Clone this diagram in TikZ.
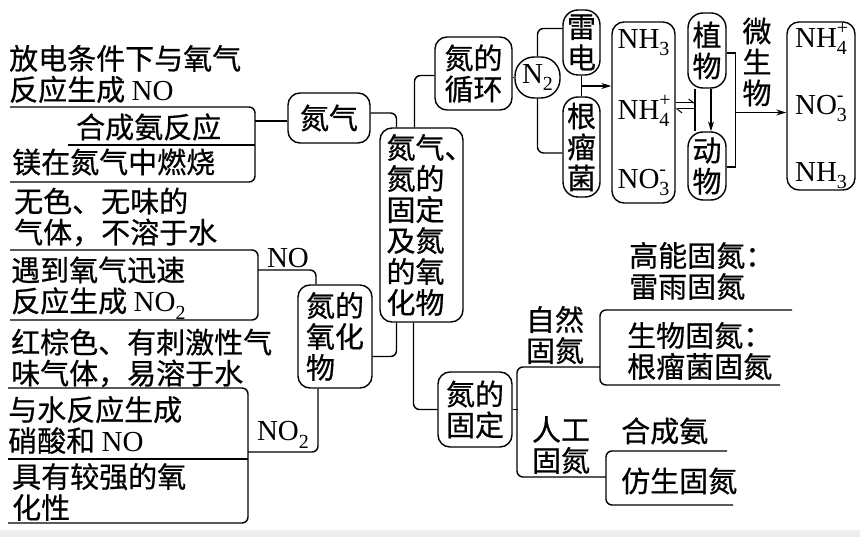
\documentclass[tikz,border=0pt]{standalone}
\usepackage{fontspec}
\setmainfont{Liberation Serif}
\newfontfamily\cjk[FakeBold=0.6]{Noto Sans CJK SC}
\usetikzlibrary{arrows.meta, calc}
\newcommand\chsub[1]{\raisebox{-0.26em}{\fontsize{20}{20}\selectfont #1}}
\newcommand\chion[2]{\rlap{\raisebox{0.45em}{\fontsize{20}{20}\selectfont #2}}\chsub{#1}}
\newcommand\lat[1]{{\rmfamily #1}}

\begin{document}
\begin{tikzpicture}[x=1pt, y=-1pt,
  every node/.style={font=\cjk\fontsize{29}{31}\selectfont, inner sep=0pt},
  txt/.style={align=left, anchor=west},
  box/.style={draw, line width=1.4pt, rounded corners=12pt, align=left},
  pill/.style={box, rounded corners=15pt, align=center},
  ln/.style={line width=1.4pt, rounded corners=6pt},
  >={Stealth[length=10pt, width=6pt]}]
\useasboundingbox (0,0) rectangle (860,537);
\fill[gray!13] (0,530) rectangle (860,537);

\node[box, minimum width=82pt, minimum height=50pt] (gas) at (329,118) {氮气};
\node[box, minimum width=83pt, minimum height=194pt] (main) at (421.5,225) {氮气\makebox[12pt][l]{、}\\氮的\\固定\\及氮\\的氧\\化物};
\node[box, minimum width=74pt, minimum height=103pt] (oxide) at (335,336.5) {氮的\\氧化\\物};
\node[box, minimum width=77pt, minimum height=73pt] (cycle) at (473.5,73.5) {氮的\\循环};
\node[box, minimum width=74pt, minimum height=75pt] (fix) at (475,409.5) {氮的\\固定};
\node[box, rounded corners=19pt, minimum width=45pt, minimum height=41pt] (n2) at (537.5,77.5) {\lat{N\chsub{2}}};
\node[pill, minimum width=37pt, minimum height=65pt] (lei) at (581.5,42.5) {雷\\电};
\node[pill, minimum width=37pt, minimum height=100pt] (root) at (581.5,147) {根\\瘤\\菌};
\node[box, minimum width=63pt, minimum height=181pt] (ionsA) at (643.5,112.5) {\lat{NH\chsub{3}}\\[38pt]\lat{NH\chion{4}{+}}\\[38pt]\lat{NO\chion{3}{-}}};
\node[pill, minimum width=38pt, minimum height=75pt] (plant) at (707,50.5) {植\\物};
\node[pill, minimum width=38pt, minimum height=68pt] (animal) at (707,166) {动\\物};
\node[align=center] (microbe) at (757,62) {微\\生\\物};
\node[box, minimum width=68pt, minimum height=168pt] (ionsB) at (821,106) {\lat{NH\chion{4}{+}}\\[36pt]\lat{NO\chion{3}{-}}\\[36pt]\lat{NH\chsub{3}}};

\node[txt] (spark) at (9,74) {放电条件下与氧气\\反应生成 \lat{NO}};
\node[txt] (synth) at (76,127) {合成氨反应};
\node[txt] (burn) at (12,162) {镁在氮气中燃烧};
\node[txt] (colorless) at (14,217) {无色、无味的\\气体，不溶于水};
\node[txt] (meetO) at (11,288) {遇到氧气迅速\\反应生成 \lat{NO\chsub{2}}};
\node[txt] (brown) at (11,358) {红棕色、有刺激性气\\味气体，易溶于水};
\node[txt] (water) at (8,425) {与水反应生成\\硝酸和 \lat{NO}};
\node[txt] (oxid) at (12,492) {具有较强的氧\\化性};
\node (noLab) at (288,258) {\lat{NO}};
\node (no2Lab) at (283,435) {\lat{NO\chsub{2}}};

\node[align=center] (natural) at (555,335) {自然\\固氮};
\node[align=center] (artif) at (561,445) {人工\\固氮};
\node[txt] (highE) at (629,271) {高能固氮：\\雷雨固氮};
\node[txt] (bio) at (627,351) {生物固氮：\\根瘤菌固氮};
\node[txt] (ammonia) at (621,431) {合成氨};
\node[txt] (bionic) at (621,481) {仿生固氮};

\draw[ln] (10,107) -- (255,107) -- (255,182) -- (10,182);
\draw[ln] (68,145) -- (255,145);
\coordinate (gasJ) at (255,121);
\draw[ln] (gasJ) -- (gasJ -| gas.west);
\draw[ln] (10,250) -- (258,250) -- (258,320) -- (10,320);
\coordinate (noJ) at (258,270);
\draw[ln] (noJ) -| ([xshift=-19pt]oxide.north);
\draw[ln] (8,388) -- (248,388) -- (248,523) -- (8,523);
\draw[ln] (8,459) -- (248,459);
\coordinate (no2J) at (248,452);
\draw[ln] (no2J) -| ([xshift=-17pt]oxide.south);

\draw[ln] ([yshift=5pt]gas.east) -| ([xshift=-25pt]main.north);
\draw[ln] ([xshift=-7pt]main.north) |- ([yshift=-2pt]cycle.west);
\draw[ln] ([xshift=-25pt]main.south) |- ([yshift=-20pt]oxide.east);
\draw[ln] ([xshift=-8pt]main.south) |- (fix.west);

\draw[ln] (cycle.east |- n2.west) -- (n2.west);
\draw[ln] (n2.north) |- ([yshift=14pt]lei.west);
\draw[ln] (n2.south) |- ([yshift=-6pt]root.west);
\draw[ln] (lei.south) -- (root.north);
\coordinate (leiJ) at ($(lei.south)!0.5!(root.north)$);
\draw[ln, ->] (leiJ) -- (leiJ -| ionsA.west);
\coordinate (plantL) at ([xshift=-12pt]plant.south);
\draw[ln] (plantL) -- ([xshift=-12pt]animal.north);
\draw[line width=1pt, -{Straight Barb[left, length=5pt, width=8pt]}] ([yshift=9.5pt]ionsA.east) -- ([yshift=9.5pt]ionsA.east -| plantL);
\draw[line width=1pt, -{Straight Barb[left, length=5pt, width=8pt]}] ([yshift=3.5pt]ionsA.east -| plantL) -- ([yshift=3.5pt]ionsA.east);
\draw[ln, ->] ([xshift=4pt]plant.south) -- ([xshift=4pt]animal.north);
\draw[line width=1.4pt] ([yshift=-2.5pt]plant.east) -- ++(9,0) |- ([yshift=-1pt]animal.east);
\coordinate (brkJ) at ($(plant.east)+(9,62)$);
\draw[ln, ->] (brkJ) -- (brkJ -| ionsB.west);

\draw[ln] (fix.east) -- ++(5,0);
\draw[ln] (600,367) -- (517,367) -- (517,477) -- (606,477);
\draw[ln] (792,310) -- (600,310) -- (600,385) -- (780,385);
\draw[ln] (727,451) -- (606,451) -- (606,505) -- (733,505);
\end{tikzpicture}
\end{document}
